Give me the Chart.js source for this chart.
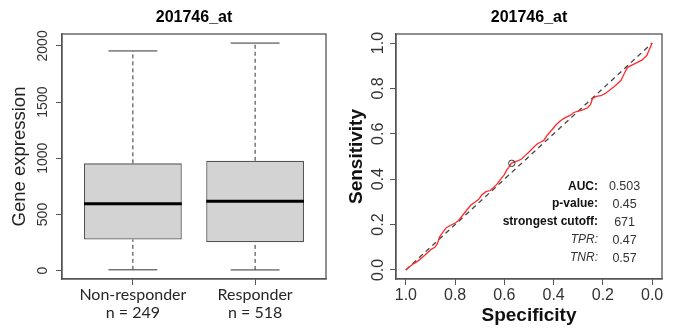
<!DOCTYPE html>
<html><head><meta charset="utf-8">
<script src="https://cdn.jsdelivr.net/npm/chart.js@4.4.1/dist/chart.umd.min.js"></script>
<style>
html,body{margin:0;padding:0;background:#fff;}
#wrap{position:relative;width:676px;height:328px;overflow:hidden;background:#fff;}
canvas{position:absolute;top:0;}
</style></head><body>
<div id="wrap">
<canvas id="box" width="338" height="328" style="left:0"></canvas>
<canvas id="roc" width="338" height="328" style="left:338px"></canvas>
</div>
<script>
// ---------- data ----------
const plotTitle = '201746_at';
const groups = ['Non-responder', 'Responder'];
const groupN = [249, 518];
const whiskerLow = [8, 7];
const quartile1 = [278, 254];
const medians = [595, 618];
const quartile3 = [955, 978];
const whiskerHigh = [1955, 2025];
const exprTicks = [0, 500, 1000, 1500, 2000];

const rocSpecificity = [1.000,0.985,0.968,0.950,0.930,0.912,0.896,0.882,0.872,0.863,0.850,0.836,0.820,0.802,0.786,0.770,0.754,0.737,0.720,0.705,0.692,0.675,0.657,0.645,0.630,0.612,0.600,0.591,0.582,0.572,0.560,0.546,0.530,0.515,0.500,0.482,0.466,0.450,0.440,0.425,0.405,0.390,0.372,0.355,0.335,0.318,0.300,0.282,0.262,0.250,0.242,0.226,0.208,0.190,0.168,0.150,0.127,0.113,0.100,0.082,0.060,0.040,0.022,0.010,0.000];
const rocSensitivity = [0.000,0.014,0.028,0.040,0.058,0.076,0.092,0.100,0.116,0.146,0.166,0.186,0.196,0.205,0.218,0.240,0.262,0.285,0.298,0.310,0.330,0.345,0.350,0.362,0.378,0.405,0.420,0.440,0.452,0.470,0.476,0.481,0.489,0.505,0.520,0.540,0.556,0.565,0.571,0.595,0.620,0.640,0.658,0.670,0.680,0.694,0.700,0.706,0.715,0.730,0.756,0.765,0.768,0.778,0.796,0.812,0.835,0.866,0.893,0.903,0.915,0.926,0.945,0.975,1.000];
const chanceSpecificity = [1, 0];
const chanceSensitivity = [0, 1];
const cutoffSpecificity = [0.57];
const cutoffSensitivity = [0.47];
const rateTicks = [0, 0.2, 0.4, 0.6, 0.8, 1.0];
const statLabels = ['AUC:', 'p-value:', 'strongest cutoff:', 'TPR:', 'TNR:'];
const statValues = ['0.503', '0.45', '671', '0.47', '0.57'];

// ---------- common ----------
const FONT = '"Liberation Sans", Arial, Helvetica, sans-serif';
Chart.defaults.font.family = FONT;
Chart.defaults.color = '#222';
const AXIS = '#555';

const framePlugin = {
  id: 'frame',
  afterDatasetsDraw(chart) {
    const {ctx, chartArea: a} = chart;
    ctx.save();
    ctx.strokeStyle = AXIS; ctx.lineWidth = 1.3;
    ctx.strokeRect(a.left, a.top, a.right - a.left, a.bottom - a.top);
    ctx.restore();
  }
};

function titleOpts() {
  return {
    display: true, text: plotTitle, fullSize: false, color: '#000',
    font: {family: FONT, size: 16, weight: 'bold', lineHeight: 1.2},
    padding: {top: 8, bottom: 6.8}
  };
}

// ---------- boxplot ----------
const BOX_W = 0.8, CAP_W = 0.4;
const yLo = Math.min(...whiskerLow), yHi = Math.max(...whiskerHigh);
const yExt = (yHi - yLo) * 0.04;
const xExt = groups.length * 0.04;

function seg(points, extra) {
  return Object.assign({
    type: 'line', data: points, borderColor: '#333', borderWidth: 1,
    pointRadius: 0, fill: false, tension: 0, order: 1
  }, extra || {});
}

const boxDatasets = [{
  type: 'bar',
  data: groups.map((g, i) => ({x: i + 1, y: [quartile1[i], quartile3[i]]})),
  backgroundColor: '#d3d3d3', borderColor: '#555', borderWidth: 1.3,
  borderSkipped: false, categoryPercentage: BOX_W, barPercentage: 1, order: 10
}];
groups.forEach((g, i) => {
  const c = i + 1;
  boxDatasets.push(seg([{x: c, y: quartile3[i]}, {x: c, y: whiskerHigh[i]}], {borderDash: [4, 3]}));
  boxDatasets.push(seg([{x: c, y: whiskerLow[i]}, {x: c, y: quartile1[i]}], {borderDash: [4, 3]}));
  boxDatasets.push(seg([{x: c - CAP_W / 2, y: whiskerHigh[i]}, {x: c + CAP_W / 2, y: whiskerHigh[i]}]));
  boxDatasets.push(seg([{x: c - CAP_W / 2, y: whiskerLow[i]}, {x: c + CAP_W / 2, y: whiskerLow[i]}]));
  boxDatasets.push(seg([{x: c - BOX_W / 2, y: medians[i]}, {x: c + BOX_W / 2, y: medians[i]}], {borderColor: '#000', borderWidth: 3, order: 0}));
});

new Chart(document.getElementById('box'), {
  type: 'bar',
  data: {datasets: boxDatasets},
  options: {
    responsive: false, animation: false, devicePixelRatio: 1,
    layout: {padding: {left: 0, right: 12, top: 0, bottom: 0}},
    plugins: {legend: {display: false}, tooltip: {enabled: false}, title: titleOpts()},
    scales: {
      x: {
        type: 'linear', offset: false, min: 0.5 - xExt, max: groups.length + 0.5 + xExt,
        afterBuildTicks: s => { s.ticks = groups.map((g, i) => ({value: i + 1})); },
        afterFit: s => { s.height = 49; },
        grid: {offset: false, drawOnChartArea: false, drawTicks: true, tickLength: 6, color: AXIS, tickColor: AXIS},
        border: {display: true, color: AXIS, width: 1.3},
        ticks: {
          autoSkip: false, maxRotation: 0, minRotation: 0, padding: 1, color: '#262626',
          font: {family: 'Lato, "Open Sans", sans-serif', size: 16, lineHeight: 1.125},
          callback: v => { const i = Math.round(v) - 1; return [groups[i], 'n = ' + groupN[i]]; }
        }
      },
      y: {
        type: 'linear', min: yLo - yExt, max: yHi + yExt,
        afterBuildTicks: s => { s.ticks = exprTicks.map(v => ({value: v})); },
        afterFit: s => { s.width = 62; },
        grid: {drawOnChartArea: false, drawTicks: true, tickLength: 6, color: AXIS, tickColor: AXIS},
        border: {display: true, color: AXIS, width: 1.3},
        title: {display: true, text: 'Gene expression', color: '#222', font: {family: FONT, size: 18.5, lineHeight: 1.2}, padding: {top: 9, bottom: 0}},
        ticks: {
          autoSkip: false, minRotation: 90, maxRotation: 90, crossAlign: 'center', padding: -2.6,
          color: '#333', font: {family: FONT, size: 14},
          callback: v => String(v)
        }
      }
    }
  },
  plugins: [framePlugin]
});

// ---------- ROC ----------
const statsPlugin = {
  id: 'stats',
  afterDatasetsDraw(chart) {
    const xs = chart.scales.x, ys = chart.scales.y, ctx = chart.ctx;
    const labelX = xs.getPixelForValue(0.22);
    const valueX = xs.getPixelForValue(0.112);
    ctx.save();
    ctx.textBaseline = 'middle';
    statLabels.forEach((t, i) => {
      const y = ys.getPixelForValue(0.369 - i * 0.0792);
      ctx.font = (i < 3 ? 'bold ' : 'italic ') + '12px ' + FONT;
      ctx.textAlign = 'right'; ctx.fillStyle = i < 3 ? '#111' : '#333';
      ctx.fillText(t, labelX, y);
      ctx.font = '12.5px ' + FONT;
      ctx.textAlign = 'center'; ctx.fillStyle = '#333';
      ctx.fillText(statValues[i], valueX, y);
    });
    ctx.restore();
  }
};

new Chart(document.getElementById('roc'), {
  type: 'scatter',
  data: {datasets: [
    {data: chanceSpecificity.map((s, i) => ({x: s, y: chanceSensitivity[i]})), showLine: true,
     borderColor: '#444', borderDash: [5, 4], borderWidth: 1.3, pointRadius: 0, order: 3},
    {data: rocSpecificity.map((s, i) => ({x: s, y: rocSensitivity[i]})), showLine: true,
     borderColor: '#ff2b2b', borderWidth: 1.3, pointRadius: 0, tension: 0, order: 2},
    {data: cutoffSpecificity.map((s, i) => ({x: s, y: cutoffSensitivity[i]})), showLine: false,
     pointRadius: 3.2, pointBorderColor: '#333', pointBackgroundColor: 'rgba(0,0,0,0)', pointBorderWidth: 1, order: 1}
  ]},
  options: {
    responsive: false, animation: false, devicePixelRatio: 1,
    layout: {padding: {left: 0, right: 14, top: 0, bottom: 0}},
    plugins: {legend: {display: false}, tooltip: {enabled: false}, title: titleOpts()},
    scales: {
      x: {
        type: 'linear', reverse: true, min: -0.04, max: 1.04,
        afterBuildTicks: s => { s.ticks = rateTicks.map(v => ({value: v})); },
        afterFit: s => { s.height = 49; },
        grid: {drawOnChartArea: false, drawTicks: true, tickLength: 6, color: AXIS, tickColor: AXIS},
        border: {display: true, color: AXIS, width: 1.3},
        title: {display: true, text: 'Specificity', color: '#111', font: {family: FONT, size: 19, weight: 'bold', lineHeight: 1.2}, padding: {top: 0, bottom: 0.6}},
        ticks: {autoSkip: false, maxRotation: 0, minRotation: 0, padding: 1, color: '#333',
          font: {family: FONT, size: 16}, callback: v => Number(v).toFixed(1)}
      },
      y: {
        type: 'linear', min: -0.04, max: 1.04,
        afterBuildTicks: s => { s.ticks = rateTicks.map(v => ({value: v})); },
        afterFit: s => { s.width = 58; },
        grid: {drawOnChartArea: false, drawTicks: true, tickLength: 6, color: AXIS, tickColor: AXIS},
        border: {display: true, color: AXIS, width: 1.3},
        title: {display: true, text: 'Sensitivity', color: '#111', font: {family: FONT, size: 19, weight: 'bold', lineHeight: 1.2}, padding: {top: 7.3, bottom: 0}},
        ticks: {autoSkip: false, minRotation: 90, maxRotation: 90, crossAlign: 'center', padding: 0,
          color: '#333', font: {family: FONT, size: 16}, callback: v => Number(v).toFixed(1)}
      }
    }
  },
  plugins: [framePlugin, statsPlugin]
});
</script>
</body></html>
